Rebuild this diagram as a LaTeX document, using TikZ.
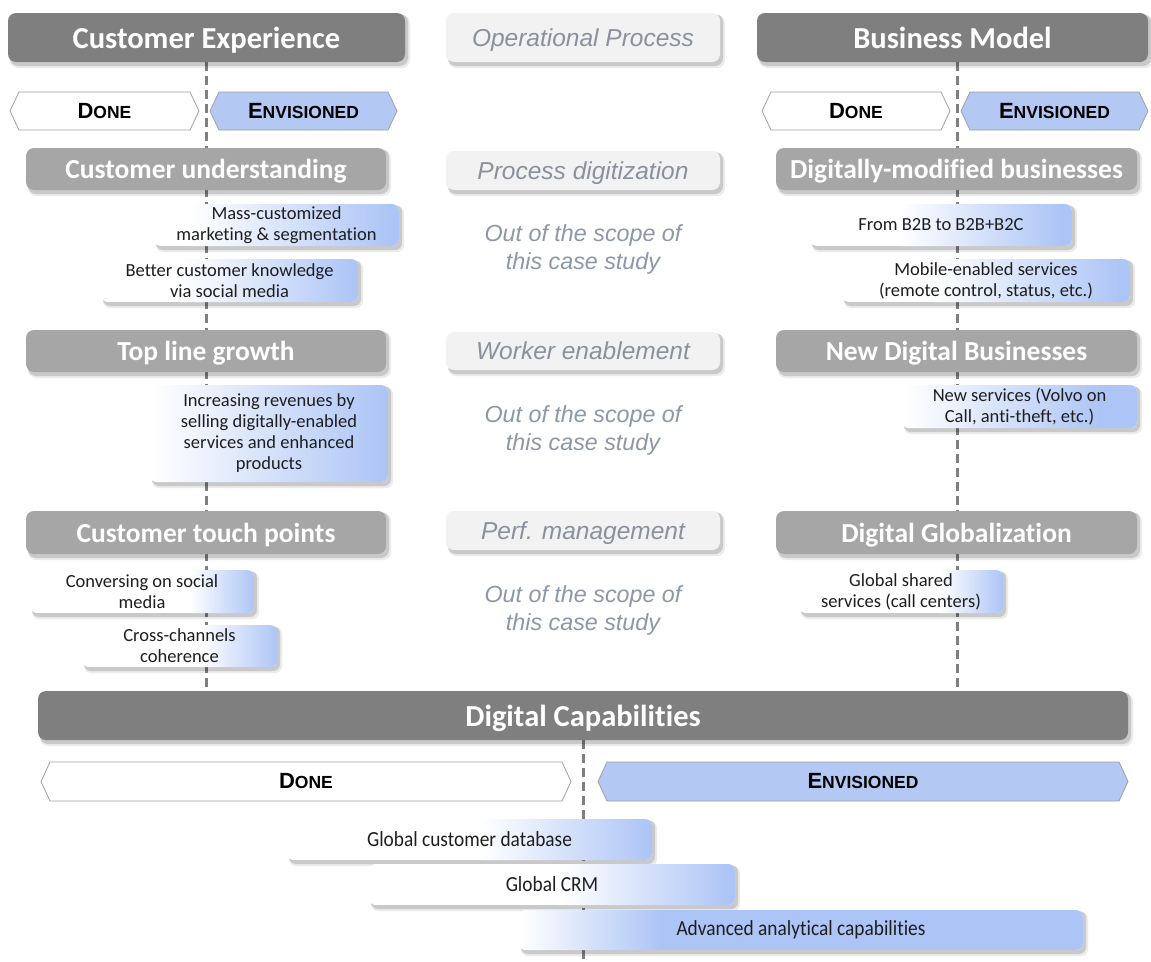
\documentclass[tikz,border=0pt]{standalone}
\usepackage{fontspec}
\setmainfont{Carlito}[Ligatures=CommonOff]
\newfontfamily\arialf{Liberation Sans}
\newfontfamily\condf{Carlito}[FakeStretch=0.9,Ligatures=CommonOff]
\usetikzlibrary{calc}
\definecolor{darkg}{HTML}{7F7F7F}
\definecolor{midg}{HTML}{A6A6A6}
\definecolor{lightg}{HTML}{F2F2F2}
\definecolor{envb}{HTML}{B4C8F4}
\definecolor{gradb}{HTML}{ADC5F6}
\definecolor{hexline}{HTML}{A0A0A0}
\definecolor{itgrey}{HTML}{8A919C}
\definecolor{scopeg}{HTML}{8C97A8}
\definecolor{dashg}{HTML}{7F7F7F}
\definecolor{txtd}{HTML}{1E1E1E}

\newcommand\myshadow[5]{%
  \fill[black,opacity=.08,rounded corners=#5] ({#1+2},{#2+2}) rectangle ({#3+5},{#4+6});
  \fill[black,opacity=.14,rounded corners=#5] ({#1+2},{#2+1}) rectangle ({#3+3},{#4+4});
}
\newcommand\solidbox[7]{% name x1 y1 x2 y2 style text
  \myshadow{#2}{#3}{#4}{#5}{8}
  \node[#6, rounded corners=8, inner sep=0, text depth=0pt, minimum width={#4-#2}, minimum height={#5-#3}] (#1) at ({(#2+#4)/2},{(#3+#5)/2}) {#7};
}
\newcommand\gradbox[9][gtext]{% style name x1 y1 x2 y2 g1 g2 text
  \myshadow{#3}{#4}{#5}{#6}{7}
  \begin{scope}
  \clip[rounded corners=7] (#3,#4) rectangle (#5,#6);
  \fill[white] (#3,#4) rectangle (#5,#6);
  \shade[left color=white,right color=gradb] (#7,#4) rectangle (#8,#6);
  \fill[gradb] (#8,#4) rectangle (#5,#6);
  \end{scope}
  \node[#1] (#2) at ({(#3+#5)/2},{(#4+#6)/2}) {#9};
}
\newcommand\hexbox[7]{% name x1 x2 y1 y2 fill text
  \filldraw[hexs,fill=#6] (#2,{(#4+#5)/2}) -- ({#2+9},#4) -- ({#3-9},#4) -- (#3,{(#4+#5)/2}) -- ({#3-9},#5) -- ({#2+9},#5) -- cycle;
  \node[dn] (#1) at ({(#2+#3)/2},{(#4+#5)/2}) {#7};
}
\newcommand\smc[2]{{\fontsize{22}{22}\selectfont #1}{\fontsize{17.5}{17.5}\selectfont #2}}

\begin{document}
\begin{tikzpicture}[x=1pt,y=-1pt,
  hdr/.style={fill=darkg,text=white,font=\bfseries\fontsize{30.5}{34}\selectfont},
  cat/.style={fill=midg,text=white,font=\bfseries\fontsize{27.5}{30}\selectfont},
  mid/.style={fill=lightg,text=itgrey,font=\arialf\itshape\fontsize{24.5}{28}\selectfont},
  gtext/.style={text=txtd,align=center,font=\fontsize{18.5}{21}\selectfont,inner sep=0},
  btext/.style={text=txtd,align=center,font=\condf\fontsize{21.5}{22}\selectfont,inner sep=0},
  oos/.style={text=scopeg,align=center,font=\arialf\itshape\fontsize{23.3}{28}\selectfont},
  dashln/.style={draw=dashg,line width=3pt,dash pattern=on 9pt off 5pt},
  hexs/.style={draw=hexline,line width=0.8pt},
  dn/.style={font=\arialf\bfseries,text=black}
]
\useasboundingbox (0,0) rectangle (1151,961);
\fill[white] (0,0) rectangle (1151,961);

% dashed axes
\coordinate (lt) at (206,62); \coordinate (lb) at (206,691);
\coordinate (rt) at (957,62); \coordinate (rb) at (957,691);
\coordinate (bt) at (583,740); \coordinate (bb) at (583,961);
\draw[dashln] (lt) -- (lb);
\draw[dashln] (rt) -- (rb);
\draw[dashln] (bt) -- (bb);

% headers
\solidbox{ce}{8}{13}{405}{62}{hdr}{Customer Experience}
\solidbox{op}{446}{13}{720}{62}{mid}{Operational Process}
\solidbox{bm}{757}{13}{1148}{62}{hdr}{Business Model}

% done / envisioned
\hexbox{dl}{10}{199}{92}{130}{white}{\smc{D}{ONE}}
\hexbox{el}{210}{397}{92}{130}{envb}{\smc{E}{NVISIONED}}
\hexbox{dr}{762}{950}{92}{130}{white}{\smc{D}{ONE}}
\hexbox{er}{961}{1148}{92}{130}{envb}{\smc{E}{NVISIONED}}

% category rows
\solidbox{cu}{26}{148}{386}{190}{cat}{Customer understanding}
\solidbox{tl}{26}{330}{386}{372}{cat}{Top line growth}
\solidbox{tp}{26}{511}{386}{554}{cat}{Customer touch points}
\solidbox{dm}{776}{148}{1137}{190}{cat}{Digitally-modified businesses}
\solidbox{nd}{776}{330}{1137}{372}{cat}{New Digital Businesses}
\solidbox{dg}{776}{511}{1137}{554}{cat}{Digital Globalization}
\solidbox{pd}{446}{151}{720}{190}{mid}{Process digitization}
\solidbox{we}{446}{332}{720}{370}{mid}{Worker enablement}
\solidbox{pm}{446}{511}{720}{550}{mid}{Perf. management}

% out of scope
\node[oos] (o1) at (583,249) {Out of the scope of\\this case study};
\node[oos] (o2) at (583,430) {Out of the scope of\\this case study};
\node[oos] (o3) at (583,610) {Out of the scope of\\this case study};

% left items
\gradbox{mc}{154}{204}{399}{246}{190}{390}{Mass-customized\\marketing \& segmentation}
\gradbox{bc}{101}{259}{358}{302}{180}{355}{Better customer knowledge\\via social media}
\gradbox{ir}{150}{385}{388}{482}{150}{385}{Increasing revenues by\\selling digitally-enabled\\services and enhanced\\products}
\gradbox{cs}{30}{570}{254}{613}{190}{254}{Conversing on social\\media}
\gradbox{cc}{82}{625}{277}{667}{200}{277}{Cross-channels\\coherence}

% right items
\gradbox{fb}{810}{204}{1072}{246}{900}{1060}{From B2B to B2B+B2C}
\gradbox{me}{842}{259}{1130}{302}{930}{1120}{Mobile-enabled services\\(remote control, status, etc.)}
\gradbox{ns}{902}{385}{1137}{428}{905}{1100}{New services (Volvo on\\Call, anti-theft, etc.)}
\gradbox{gs}{799}{570}{1003}{613}{940}{1003}{Global shared\\services (call centers)}

% digital capabilities
\solidbox{dc}{38}{691}{1128}{740}{hdr}{Digital Capabilities}
\hexbox{db}{41}{571}{762}{801}{white}{\smc{D}{ONE}}
\hexbox{eb}{598}{1128}{762}{801}{envb}{\smc{E}{NVISIONED}}

\gradbox[btext]{gc}{287}{819}{652}{860}{480}{650}{Global customer database}
\gradbox[btext]{gm}{369}{864}{735}{905}{560}{730}{Global CRM}
\gradbox[btext]{aa}{519}{910}{1083}{950}{520}{660}{Advanced analytical capabilities}
\end{tikzpicture}
\end{document}
